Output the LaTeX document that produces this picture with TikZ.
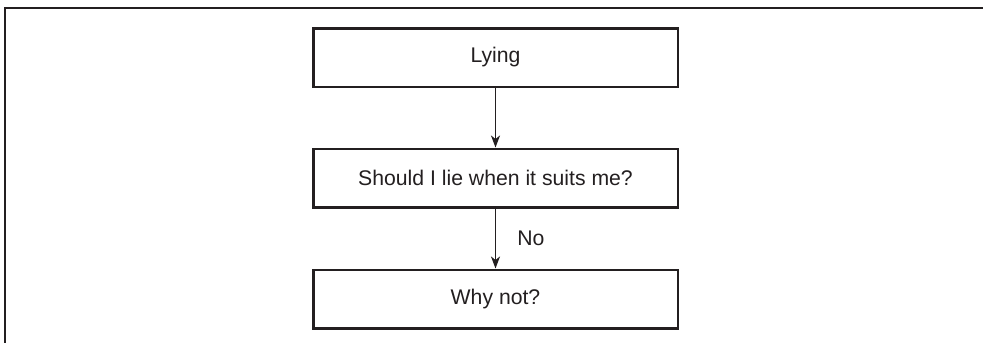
\documentclass[tikz,border=0pt]{standalone}
\usepackage{fontspec}
\setmainfont{Liberation Sans}
\usetikzlibrary{arrows.meta}
\definecolor{ink}{HTML}{231F20}
\begin{document}
\begin{tikzpicture}[x=1pt, y=-1pt,
  flowbox/.style={draw=ink, line width=2.5pt, fill=white, rectangle,
    minimum width=364.5pt, minimum height=58.5pt, inner sep=0pt,
    text=ink, font=\fontsize{21.2}{25}\selectfont},
  flowarrow/.style={draw=ink, line width=1.5pt,
    -{Stealth[length=12pt, width=9pt, inset=3.5pt]}},
  edgelabel/.style={text=ink, font=\fontsize{21.2}{25}\selectfont, inner sep=0pt}]
  \useasboundingbox (0,0) rectangle (983,343);
  % partial frame: top and left rules
  \draw[draw=ink, line width=1.8pt] (983,8) -- (5,8) -- (5,343);

  \node[flowbox] (lying) at (495.5,57.5) {Lying};
  \node[flowbox] (should) at (495.5,178) {Should I lie when it suits me?};
  \node[flowbox] (why) at (495.5,299) {Why not?};

  \draw[flowarrow] (lying) -- (should);
  \draw[flowarrow] (should) -- node[edgelabel, midway, right=21pt] (no) {No} (why);
\end{tikzpicture}
\end{document}
